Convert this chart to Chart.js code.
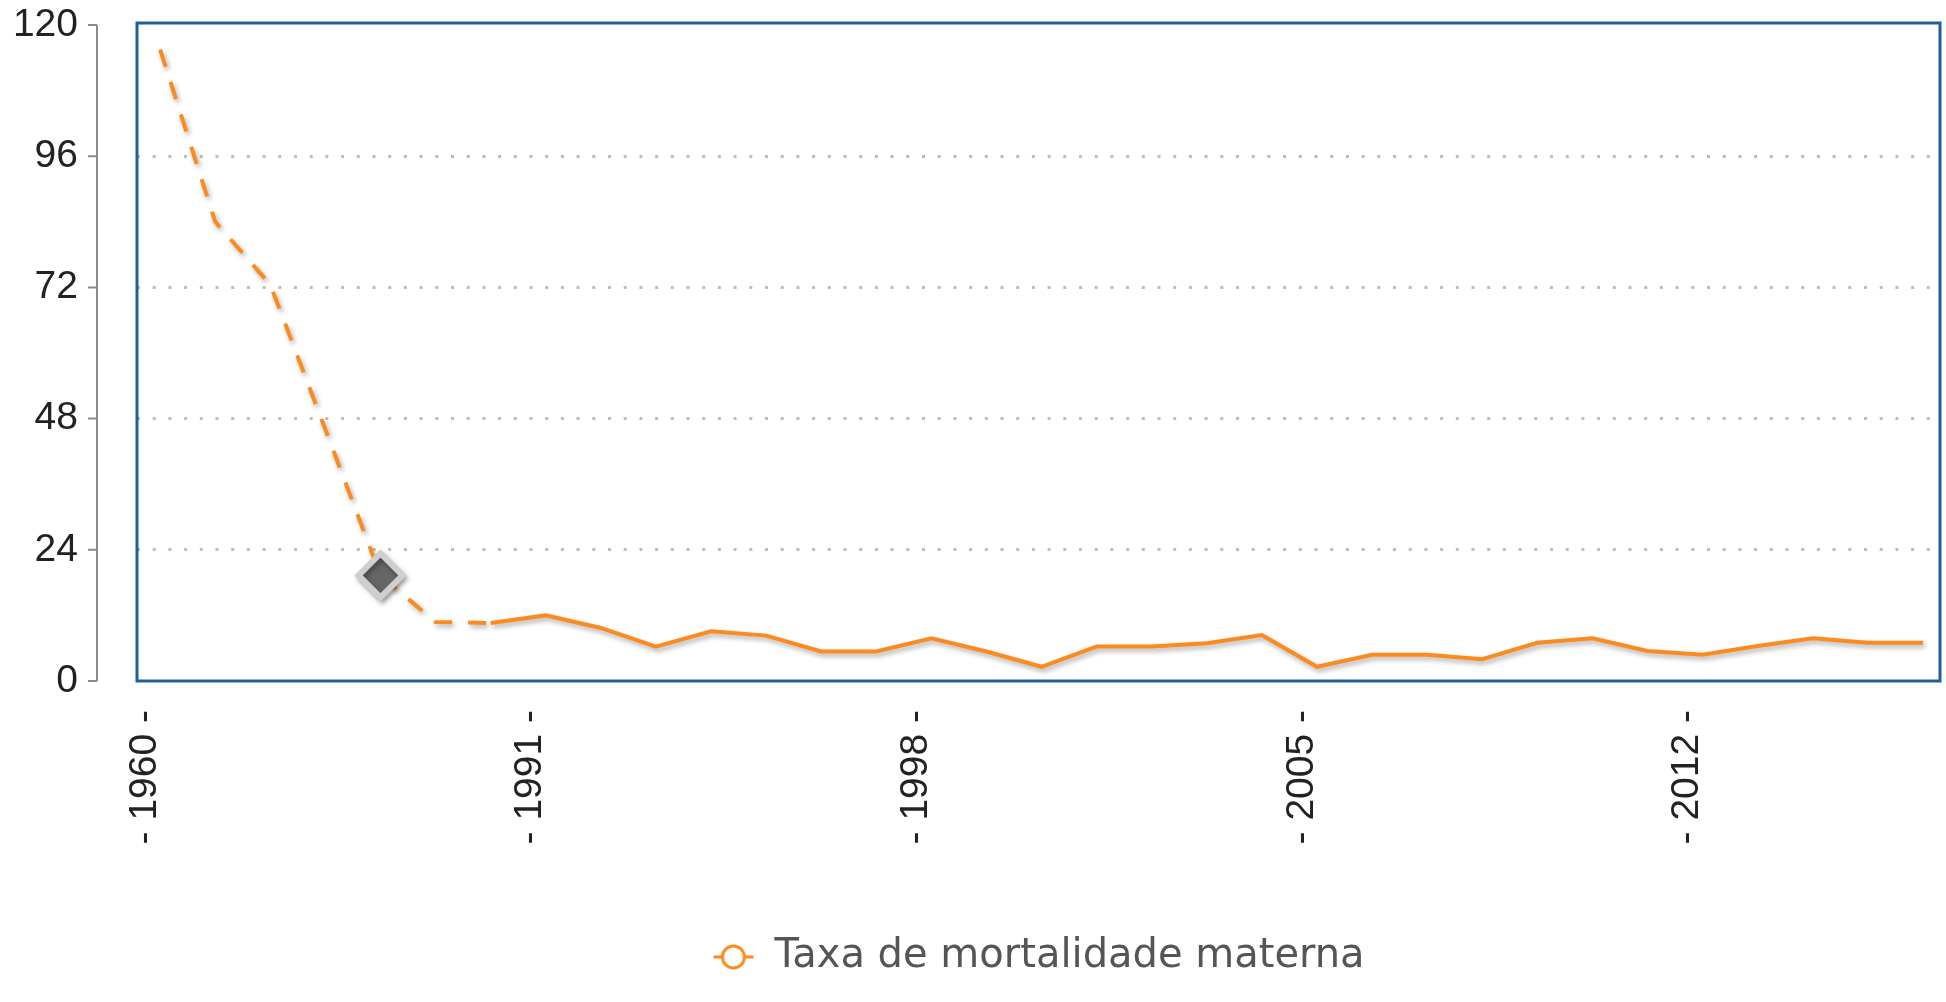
<!DOCTYPE html>
<html>
<head>
<meta charset="utf-8">
<script src="https://cdn.jsdelivr.net/npm/chart.js@4"></script>
<style>
  html, body { margin: 0; padding: 0; background: #fff; }
</style>
</head>
<body>
<canvas id="chart" width="1946" height="1002"></canvas>
<script>
// data
const years = [1960, 1965, 1970, 1975, 1980, 1985, 1990,
  1991, 1992, 1993, 1994, 1995, 1996, 1997, 1998, 1999, 2000,
  2001, 2002, 2003, 2004, 2005, 2006, 2007, 2008, 2009, 2010,
  2011, 2012, 2013, 2014, 2015, 2016];
const values = [115.5, 84, 72.5, 46, 19.3, 10.8, 10.6,
  12, 9.7, 6.3, 9.1, 8.3, 5.4, 5.4, 7.8, 5.4, 2.6,
  6.3, 6.3, 6.9, 8.4, 2.6, 4.8, 4.8, 4.0, 7.0, 7.8,
  5.5, 4.8, 6.4, 7.8, 7.0, 7.0];
const labelYears = [1960, 1991, 1998, 2005, 2012];
const yTicks = [0, 24, 48, 72, 96, 120];
const seriesName = "Taxa de mortalidade materna";
const dashedUntil = 6;   // line is dashed up to this point
const highlighted = 4;   // point shown with the diamond marker

const orange = "#fb8a1f";

// legend icon: short line with an open circle
const icon = document.createElement("canvas");
icon.width = 42;
icon.height = 30;
const ic = icon.getContext("2d");
ic.strokeStyle = orange;
ic.lineWidth = 3;
ic.beginPath(); ic.moveTo(1, 15); ic.lineTo(41, 15); ic.stroke();
ic.beginPath(); ic.arc(21, 15, 11, 0, Math.PI * 2);
ic.fillStyle = "#fff"; ic.fill(); ic.stroke();

// blue frame round the plot and the detached y axis
const frame = {
  id: "frame",
  beforeDatasetsDraw(chart) {
    const { ctx, chartArea: a, scales: { y } } = chart;
    ctx.save();
    ctx.strokeStyle = "#1f5f99";
    ctx.lineWidth = 3;
    ctx.strokeRect(a.left, a.top - 2, a.right - a.left, a.bottom - a.top + 2);

    const ax = a.left - 40;
    ctx.strokeStyle = "#8c8c8c";
    ctx.lineWidth = 2;
    ctx.beginPath();
    ctx.moveTo(ax, y.getPixelForValue(yTicks[yTicks.length - 1]));
    ctx.lineTo(ax, y.getPixelForValue(0));
    yTicks.forEach(t => {
      const py = y.getPixelForValue(t);
      ctx.moveTo(ax - 9, py);
      ctx.lineTo(ax, py);
    });
    ctx.stroke();
    ctx.restore();
  }
};

// soft shadow under the line
const lineShadow = {
  id: "lineShadow",
  beforeDatasetDraw(chart) {
    const ctx = chart.ctx;
    ctx.save();
    ctx.shadowColor = "rgba(0,0,0,0.32)";
    ctx.shadowBlur = 5;
    ctx.shadowOffsetX = 2;
    ctx.shadowOffsetY = 3;
  },
  afterDatasetDraw(chart) {
    chart.ctx.restore();
  }
};

const tickIdx = labelYears.map(y => years.indexOf(y));

new Chart(document.getElementById("chart"), {
  type: "line",
  data: {
    datasets: [{
      label: seriesName,
      data: values.map((v, i) => ({ x: i, y: v })),
      borderColor: orange,
      borderWidth: 4,
      tension: 0,
      fill: false,
      segment: {
        borderDash: c => c.p0DataIndex < dashedUntil ? [18, 16] : undefined
      },
      pointStyle: "rectRot",
      pointRadius: c => c.dataIndex === highlighted ? 22 : 0,
      pointBackgroundColor: "#666",
      pointBorderColor: "#cfcfcf",
      pointBorderWidth: 6
    }]
  },
  options: {
    responsive: false,
    animation: false,
    events: [],
    layout: { padding: { left: 15, right: 6, top: 25, bottom: 15 } },
    scales: {
      x: {
        type: "linear",
        min: -0.42,
        max: 32.31,
        afterBuildTicks: s => { s.ticks = tickIdx.map(v => ({ value: v })); },
        afterFit: s => {
          s.height = 246;
          s.paddingLeft = 0;
          s.paddingRight = 0;
        },
        grid: { display: false },
        border: { display: false },
        ticks: {
          autoSkip: false,
          minRotation: 90,
          maxRotation: 90,
          padding: 21,
          labelOffset: -15,
          color: "#222",
          font: { family: "'Liberation Sans', Arial", size: 39 },
          callback: v => "- " + years[v] + " -"
        }
      },
      y: {
        min: 0,
        max: 120,
        afterBuildTicks: s => { s.ticks = yTicks.map(v => ({ value: v })); },
        afterFit: s => {
          s.width = 122;
          s.paddingTop = 0;
          s.paddingBottom = 0;
        },
        border: { display: false, dash: [3, 12.7] },
        grid: {
          drawTicks: false,
          color: c => (c.tick.value === 0 || c.tick.value === 120) ? "transparent" : "#bdbdbd",
          lineWidth: 3
        },
        ticks: {
          padding: 59,
          color: "#222",
          font: { family: "'Liberation Sans', Arial", size: 39 }
        }
      }
    },
    plugins: {
      legend: {
        position: "bottom",
        fullSize: false,
        labels: {
          usePointStyle: true,
          pointStyle: icon,
          pointStyleWidth: 42,
          padding: 10,
          color: "#555",
          font: { family: "'DejaVu Sans'", size: 40 }
        }
      },
      tooltip: { enabled: false }
    }
  },
  plugins: [frame, lineShadow]
});
</script>
</body>
</html>
